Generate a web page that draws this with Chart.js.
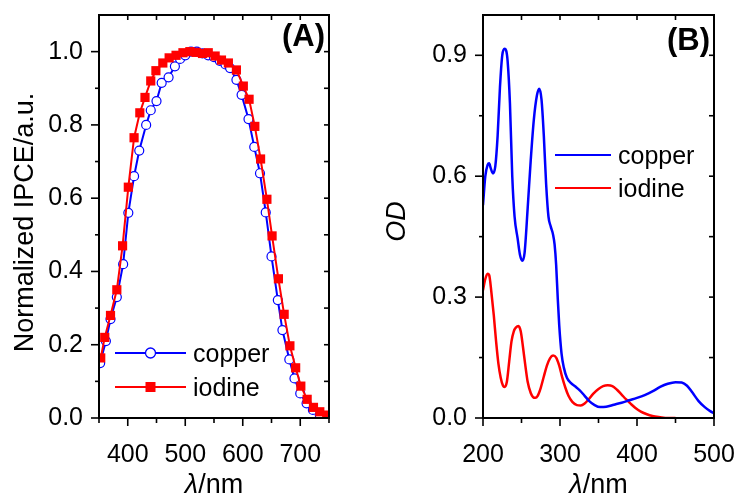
<!DOCTYPE html>
<html>
<head>
<meta charset="utf-8">
<script src="https://cdn.jsdelivr.net/npm/chart.js@4.4.0/dist/chart.umd.min.js"></script>
<style>
  html, body { margin: 0; padding: 0; background: #fff; }
  #wrap { position: relative; width: 738px; height: 497px; }
  #wrap canvas { position: absolute; left: 0; top: 0; }
</style>
</head>
<body>
<div id="wrap">
  <canvas id="chartB" width="738" height="497"></canvas>
  <canvas id="chartA" width="738" height="497"></canvas>
</div>
<script>
// (A) normalized IPCE
const ipceWlCopper = [352, 362, 370, 381, 392, 401, 411, 420, 432, 440, 450, 459, 471, 482, 491, 500, 510, 520, 530, 540, 550, 560, 570, 578, 589, 598, 610, 620, 630, 640, 650, 661, 669, 681, 690, 700, 711, 722, 734];
const ipceCopper   = [0.15, 0.21, 0.27, 0.33, 0.42, 0.56, 0.66, 0.73, 0.80, 0.84, 0.865, 0.915, 0.93, 0.96, 0.98, 0.99, 1.0, 1.0, 0.995, 0.99, 0.985, 0.975, 0.965, 0.955, 0.923, 0.882, 0.816, 0.74, 0.668, 0.561, 0.441, 0.322, 0.24, 0.16, 0.108, 0.067, 0.04, 0.022, 0.008];
const ipceWlIodine = [353, 360, 370, 381, 391, 401, 411, 421, 430, 440, 449, 461, 472, 484, 496, 508, 519, 530, 540, 552, 563, 575, 589, 601, 611, 621, 631, 642, 651, 662, 672, 682, 692, 701, 712, 723, 734, 746];
const ipceIodine   = [0.164, 0.22, 0.28, 0.35, 0.47, 0.63, 0.765, 0.833, 0.875, 0.92, 0.948, 0.969, 0.983, 0.99, 0.997, 1.0, 0.998, 0.995, 0.997, 0.988, 0.977, 0.969, 0.95, 0.906, 0.87, 0.796, 0.707, 0.597, 0.497, 0.38, 0.283, 0.197, 0.137, 0.087, 0.051, 0.029, 0.017, 0.008];

// (B) optical density
const odWlCopper = [200, 203, 206, 208, 210, 213, 216, 219, 222, 225, 228, 230, 232, 235, 238, 241, 245, 248, 251, 254, 258, 262, 266, 270, 273, 276, 279, 282, 285, 288, 291, 293, 295, 297, 299, 302, 305, 309, 314, 320, 326, 332, 338, 345, 352, 360, 370, 380, 390, 400, 410, 420, 430, 440, 450, 458, 465, 472, 480, 488, 495, 500];
const odCopper   = [0.528, 0.60, 0.628, 0.632, 0.62, 0.607, 0.625, 0.70, 0.82, 0.90, 0.916, 0.912, 0.885, 0.78, 0.60, 0.50, 0.445, 0.405, 0.39, 0.41, 0.52, 0.64, 0.74, 0.80, 0.817, 0.79, 0.70, 0.58, 0.50, 0.475, 0.455, 0.43, 0.38, 0.30, 0.23, 0.16, 0.125, 0.10, 0.087, 0.078, 0.068, 0.055, 0.042, 0.032, 0.027, 0.028, 0.033, 0.038, 0.044, 0.05, 0.057, 0.066, 0.077, 0.085, 0.089, 0.088, 0.08, 0.063, 0.042, 0.027, 0.017, 0.012];
const odWlIodine = [200, 203, 206, 208, 211, 214, 217, 220, 223, 226, 228, 231, 234, 237, 240, 243, 246, 249, 252, 255, 258, 262, 265, 268, 271, 275, 279, 283, 287, 291, 295, 299, 303, 307, 311, 316, 322, 327, 332, 337, 343, 350, 356, 362, 368, 374, 380, 386, 392, 398, 405, 412, 420, 430, 440, 450];
const odIodine   = [0.317, 0.345, 0.358, 0.355, 0.31, 0.255, 0.19, 0.135, 0.10, 0.08, 0.077, 0.09, 0.14, 0.19, 0.215, 0.225, 0.228, 0.215, 0.175, 0.13, 0.09, 0.062, 0.052, 0.05, 0.055, 0.075, 0.103, 0.13, 0.148, 0.155, 0.15, 0.13, 0.10, 0.075, 0.055, 0.04, 0.032, 0.031, 0.036, 0.046, 0.06, 0.072, 0.079, 0.081, 0.079, 0.07, 0.058, 0.046, 0.035, 0.025, 0.016, 0.01, 0.005, 0.002, 0.0, 0.0];

// tick labels and tick marks
const ipceXLabels = [400, 500, 600, 700];
const ipceXMinor = [350, 450, 550, 650, 750];
const ipceYLabels = [0, 0.2, 0.4, 0.6, 0.8, 1.0];
const ipceYMinor = [0.1, 0.3, 0.5, 0.7, 0.9];
const odXLabels = [200, 300, 400, 500];
const odXMinor = [250, 350, 450];
const odYLabels = [0, 0.3, 0.6, 0.9];
const odYMinor = [0.15, 0.45, 0.75];

const FONT = '"Liberation Sans", Arial, sans-serif';
const BLUE = '#0000ff';
const RED = '#ff0000';

function pts(xs, ys) {
  return xs.map((x, i) => ({ x: x, y: ys[i] }));
}

function setTicks(list) {
  return function (scale) {
    scale.ticks = list.map(v => ({ value: v }));
  };
}

// frame box plus major / minor tick marks
function framePlugin(xMajor, xMinor, yMajor, yMinor) {
  return {
    id: 'frame',
    afterDraw(chart) {
      const ctx = chart.ctx, a = chart.chartArea;
      const xs = chart.scales.x, ys = chart.scales.y;
      function seg(x1, y1, x2, y2) {
        ctx.beginPath(); ctx.moveTo(x1, y1); ctx.lineTo(x2, y2); ctx.stroke();
      }
      ctx.save();
      ctx.strokeStyle = '#000';
      ctx.lineWidth = 1.6;
      xMajor.concat(xMinor).forEach(v => {
        const px = xs.getPixelForValue(v);
        const major = xMajor.includes(v);
        seg(px, a.bottom, px, a.bottom + (major ? 8 : 5));
        seg(px, a.top, px, a.top + 5);
      });
      yMajor.concat(yMinor).forEach(v => {
        const py = ys.getPixelForValue(v);
        const major = yMajor.includes(v);
        seg(a.left, py, a.left - (major ? 8 : 4), py);
        seg(a.right, py, a.right - 5, py);
      });
      ctx.lineWidth = 2;
      ctx.strokeRect(a.left, a.top, a.right - a.left, a.bottom - a.top);
      ctx.restore();
    }
  };
}

// axis titles, panel tag and legend drawn onto the canvas
function textPlugin(cfg) {
  return {
    id: 'texts',
    afterDraw(chart) {
      const ctx = chart.ctx, a = chart.chartArea;
      ctx.save();
      ctx.fillStyle = '#000';
      ctx.textBaseline = 'alphabetic';

      // panel tag
      ctx.font = 'bold 31px ' + FONT;
      ctx.textAlign = 'right';
      ctx.fillText(cfg.tag, a.right - 4, cfg.tagY);

      // y title
      ctx.save();
      ctx.translate(cfg.yTitleX, (a.top + a.bottom) / 2 + cfg.yTitleShift);
      ctx.rotate(-Math.PI / 2);
      ctx.textAlign = 'center';
      ctx.font = (cfg.yItalic ? 'italic ' : '') + cfg.yTitleSize + 'px ' + FONT;
      ctx.fillText(cfg.yTitle, 0, 0);
      ctx.restore();

      // x title: italic lambda then /nm
      ctx.textAlign = 'left';
      const lamFont = 'italic 27px ' + FONT, nmFont = '27px ' + FONT;
      ctx.font = lamFont;
      const w1 = ctx.measureText('λ').width;
      ctx.font = nmFont;
      const w2 = ctx.measureText('/nm').width;
      const cx = (a.left + a.right) / 2;
      let x0 = cx - (w1 + w2) / 2;
      ctx.font = lamFont;
      ctx.fillText('λ', x0, 493);
      ctx.font = nmFont;
      ctx.fillText('/nm', x0 + w1, 493);

      // legend
      ctx.font = '25px ' + FONT;
      cfg.legend.forEach(item => {
        ctx.strokeStyle = item.color;
        ctx.lineWidth = 2;
        ctx.beginPath();
        ctx.moveTo(item.x1, item.y);
        ctx.lineTo(item.x2, item.y);
        ctx.stroke();
        const mx = (item.x1 + item.x2) / 2;
        if (item.marker === 'circle') {
          ctx.beginPath();
          ctx.arc(mx, item.y, 5, 0, Math.PI * 2);
          ctx.fillStyle = '#fff';
          ctx.fill();
          ctx.lineWidth = 1.3;
          ctx.stroke();
        } else if (item.marker === 'rect') {
          ctx.fillStyle = item.color;
          ctx.fillRect(mx - 5, item.y - 5, 10, 10);
        }
        ctx.fillStyle = '#000';
        ctx.fillText(item.label, item.tx, item.y + 9);
      });
      ctx.restore();
    }
  };
}

function axisOpts(min, max, labels, fmt, isX, fitSize) {
  return {
    type: 'linear',
    min: min,
    max: max,
    grid: { display: false, drawTicks: false },
    border: { display: false },
    afterBuildTicks: setTicks(labels),
    afterFit(s) {
      if (isX) { s.height = fitSize; } else { s.width = fitSize; }
      // keep label overhang from shrinking the plot box
      s.paddingTop = 0; s.paddingBottom = 0;
      s.paddingLeft = 0; s.paddingRight = 0;
    },
    ticks: {
      color: '#000',
      font: { family: FONT, size: 25 },
      padding: isX ? 22 : 16,
      maxRotation: 0,
      autoSkip: false,
      callback: fmt
    }
  };
}

const intFmt = v => String(v);
const decFmt = v => v.toFixed(1);

// chart A
new Chart(document.getElementById('chartA'), {
  type: 'line',
  data: {
    datasets: [
      {
        label: 'iodine',
        data: pts(ipceWlIodine, ipceIodine),
        borderColor: RED,
        backgroundColor: RED,
        borderWidth: 2,
        pointStyle: 'rect',
        pointRadius: 6.5,
        pointBorderWidth: 0,
        tension: 0,
        order: 0
      },
      {
        label: 'copper',
        data: pts(ipceWlCopper, ipceCopper),
        borderColor: BLUE,
        pointBackgroundColor: '#fff',
        pointBorderColor: BLUE,
        borderWidth: 2,
        pointRadius: 4.5,
        pointBorderWidth: 1.2,
        tension: 0,
        order: 1
      }
    ]
  },
  options: {
    responsive: false,
    animation: false,
    devicePixelRatio: 1,
    layout: { padding: { left: 0, top: 15, right: 409, bottom: 0 } },
    plugins: { legend: { display: false }, tooltip: { enabled: false } },
    scales: {
      x: axisOpts(350, 750, ipceXLabels, intFmt, true, 79),
      y: axisOpts(0, 1.1, ipceYLabels, decFmt, false, 99)
    }
  },
  plugins: [
    framePlugin(ipceXLabels, ipceXMinor, ipceYLabels, ipceYMinor),
    textPlugin({
      tag: '(A)', tagY: 46,
      yTitle: 'Normalized IPCE/a.u.', yTitleX: 33, yTitleSize: 27, yTitleShift: 6, yItalic: false,
      legend: [
        { label: 'copper', color: BLUE, marker: 'circle', x1: 115, x2: 186, y: 353, tx: 193 },
        { label: 'iodine', color: RED, marker: 'rect', x1: 115, x2: 186, y: 387, tx: 193 }
      ]
    })
  ]
});

// chart B
new Chart(document.getElementById('chartB'), {
  type: 'line',
  data: {
    datasets: [
      {
        label: 'copper',
        data: pts(odWlCopper, odCopper),
        borderColor: BLUE,
        borderWidth: 2.5,
        pointRadius: 0,
        cubicInterpolationMode: 'monotone',
        order: 0
      },
      {
        label: 'iodine',
        data: pts(odWlIodine, odIodine),
        borderColor: RED,
        borderWidth: 2.5,
        pointRadius: 0,
        cubicInterpolationMode: 'monotone',
        order: 1
      }
    ]
  },
  options: {
    responsive: false,
    animation: false,
    devicePixelRatio: 1,
    layout: { padding: { left: 0, top: 15, right: 24, bottom: 0 } },
    plugins: { legend: { display: false }, tooltip: { enabled: false } },
    scales: {
      x: axisOpts(200, 500, odXLabels, intFmt, true, 79),
      y: axisOpts(0, 1.0, odYLabels, decFmt, false, 483)
    }
  },
  plugins: [
    framePlugin(odXLabels, odXMinor, odYLabels, odYMinor),
    textPlugin({
      tag: '(B)', tagY: 50,
      yTitle: 'OD', yTitleX: 405, yTitleSize: 27, yTitleShift: 5, yItalic: true,
      legend: [
        { label: 'copper', color: BLUE, marker: null, x1: 555, x2: 611, y: 155, tx: 618 },
        { label: 'iodine', color: RED, marker: null, x1: 555, x2: 611, y: 188, tx: 618 }
      ]
    })
  ]
});
</script>
</body>
</html>
